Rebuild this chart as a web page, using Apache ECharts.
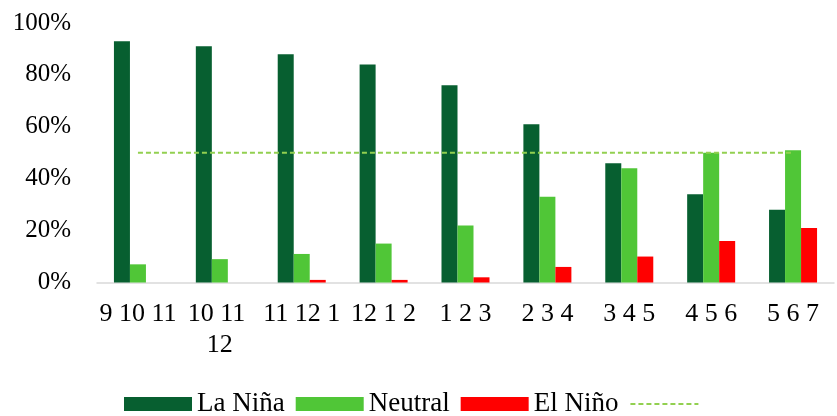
<!DOCTYPE html>
<html>
<head>
<meta charset="utf-8">
<script src="https://cdn.jsdelivr.net/npm/echarts@6/dist/echarts.min.js"></script>
<style>
  html, body { margin: 0; padding: 0; background: #ffffff; }
  #chart { width: 837px; height: 416px; }
</style>
</head>
<body>
<div id="chart"></div>
<script>
// Three-month seasons (overlapping)
const seasons = ['9 10 11', '10 11 12', '11 12 1', '12 1 2', '1 2 3', '2 3 4', '3 4 5', '4 5 6', '5 6 7'];

// Probability (%) of each ENSO phase per season
const laNina  = [93, 91, 88, 84, 76, 61, 46, 34, 28];
const neutral = [7, 9, 11, 15, 22, 33, 44, 50, 51];
const elNino  = [0, 0, 1, 1, 2, 6, 10, 16, 21];

// 50% reference level
const threshold = [50, 50, 50, 50, 50, 50, 50, 50, 50];
const thresholdName = 'Umbral 50%';

// Y axis ticks
const yTicks = { min: 0, max: 100, interval: 20 };

const chart = echarts.init(document.getElementById('chart'), null, { renderer: 'canvas' });

const serif = '"Liberation Serif", "Times New Roman", serif';

chart.setOption({
  animation: false,
  backgroundColor: '#ffffff',
  grid: { left: 97, right: 2, top: 23, bottom: 133.5, containLabel: false },
  legend: {
    left: 124,
    top: 389,
    padding: 0,
    itemWidth: 68,
    itemHeight: 14,
    itemGap: 11,
    textStyle: { fontFamily: serif, fontSize: 27, color: '#000000', lineHeight: 30 },
    formatter: name => (name === thresholdName ? '' : name),
    data: [
      { name: 'La Niña', icon: 'rect' },
      { name: 'Neutral', icon: 'rect' },
      { name: 'El Niño', icon: 'rect' },
      { name: thresholdName, itemStyle: { opacity: 0 } }
    ]
  },
  xAxis: {
    type: 'category',
    data: seasons,
    boundaryGap: true,
    axisLine: { show: true, lineStyle: { color: '#d9d9d9', width: 1.5 } },
    axisTick: { show: false },
    axisLabel: {
      fontFamily: serif,
      fontSize: 26,
      color: '#000000',
      margin: 16,
      lineHeight: 31,
      width: 82,
      overflow: 'break',
      interval: 0
    }
  },
  yAxis: {
    type: 'value',
    min: yTicks.min,
    max: yTicks.max,
    interval: yTicks.interval,
    axisLine: { show: false },
    axisTick: { show: false },
    splitLine: { show: false },
    axisLabel: {
      fontFamily: serif,
      fontSize: 25,
      color: '#000000',
      margin: 26,
      formatter: '{value}%'
    }
  },
  series: [
    {
      name: 'La Niña', type: 'bar', data: laNina,
      barWidth: 16, barGap: '0%',
      itemStyle: { color: '#075f30' }
    },
    {
      name: 'Neutral', type: 'bar', data: neutral,
      barWidth: 16, barGap: '0%',
      itemStyle: { color: '#50c637' }
    },
    {
      name: 'El Niño', type: 'bar', data: elNino,
      barWidth: 16, barGap: '0%',
      itemStyle: { color: '#ff0000' }
    },
    {
      name: thresholdName, type: 'line', data: threshold,
      symbol: 'none',
      lineStyle: { color: '#92d050', width: 2, type: [5, 3] },
      itemStyle: { color: '#92d050' },
      z: 5
    }
  ]
});
</script>
</body>
</html>
